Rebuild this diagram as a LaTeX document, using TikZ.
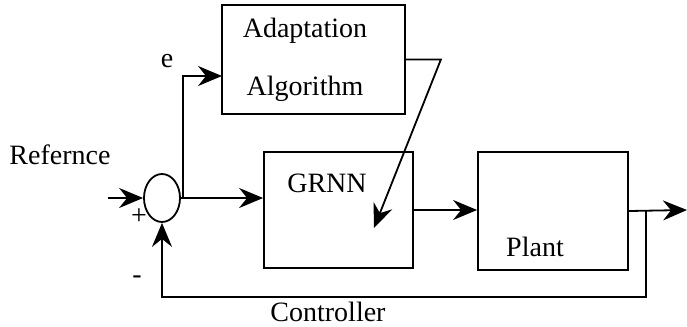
\documentclass[tikz,border=0pt]{standalone}
\usepackage{fontspec}
\setmainfont{Liberation Serif}
\usepackage{tikz}
\usetikzlibrary{positioning,arrows.meta,shapes.geometric,calc}

\begin{document}
\begin{tikzpicture}[x=0.5pt,y=-0.5pt,
  blk/.style={rectangle, draw=black, line width=0.9pt, inner sep=0pt},
  sumj/.style={ellipse, draw=black, line width=0.9pt, inner sep=0pt,
             minimum width=18pt, minimum height=24pt},
  txt/.style={font=\fontsize{14}{16}\selectfont, inner sep=1pt},
  arr/.style={-{Stealth[length=12pt,width=10pt,inset=4pt]}, line width=0.9pt},
]
\path[use as bounding box] (0,0) rectangle (687,327);

% --- blocks ---
\node[blk, minimum width=91.5pt, minimum height=54.5pt] (adapt) at (313.5,59.5) {};
\node[blk, minimum width=74.5pt, minimum height=58pt] (grnn) at (338.5,210) {};
\node[blk, minimum width=75pt, minimum height=59pt] (plant) at (553,211) {};
\node[sumj] (sum) at (162,198) {};

% --- texts ---
\node[txt] (tadapt) at (305,31) {Adaptation};
\node[txt] (talg) at (305,89) {Algorithm};
\node[txt] (tgrnn) at (327,183) {GRNN};
\node[txt] (tplant) at (535,247) {Plant};
\node[txt] (tref) at (60,155) {Refernce};
\node[txt] (te) at (167,61) {e};
\node[txt] (tplus) at (139,217) {+};
\node[txt] (tminus) at (137,280) {-};
\node[txt] (tctrl) at (328,312) {Controller};

% --- free ends ---
\coordinate (in) at (108,198);
\coordinate (ebr) at (183,198);
\coordinate (etip) at (222,76);
\coordinate (gtip) at (374,228);
\coordinate (out) at (687,210);
\coordinate (fb) at (646,210);
\coordinate (fbc) at (646,297);

% --- arrows ---
\draw[arr] (in) -- (sum.west);
\draw[arr] (sum.east) -- (sum.east -| grnn.west);
\draw[arr] (ebr) |- (etip);
\draw[arr] (adapt.east) -- ++(35,0) -- (gtip);
\draw[arr] (grnn.east) -- (grnn.east -| plant.west);
\draw[arr] (plant.east) -- (out);
\draw[arr] (fb) -- (fbc) -| (sum.south);

\end{tikzpicture}
\end{document}
